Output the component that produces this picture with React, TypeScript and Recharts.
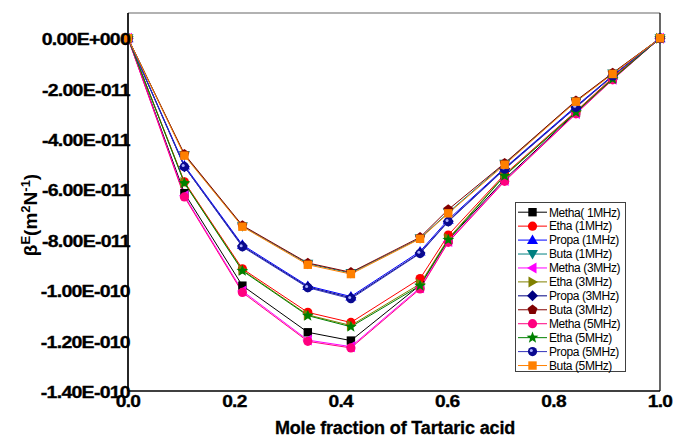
import React from "react";
import { LineChart, Line, XAxis, YAxis, ReferenceLine, Legend } from "recharts";

// Mole fraction of tartaric acid
const xValues = [0, 0.106, 0.215, 0.338, 0.419, 0.549, 0.602, 0.708, 0.842, 0.911, 1.0];

// Values of beta^E in units of 1E-11 m^2 N^-1
const methaMHz1 = [0, -61.5, -98.2, -116.7, -120.0, -98.0, -80.0, -56.0, -29.6, -16.0, 0];
const ethaMHz1 = [0, -57.0, -91.5, -108.8, -112.8, -95.4, -78.1, -54.0, -29.0, -15.6, 0];
const propaMHz1 = [0, -50.5, -82.0, -98.3, -102.5, -84.6, -72.0, -51.5, -27.0, -14.8, 0];
const butaMHz1 = [0, -46.3, -74.6, -89.5, -93.2, -79.4, -69.2, -49.8, -25.0, -14.0, 0];
const methaMHz3 = [0, -62.5, -100.3, -119.8, -122.4, -99.0, -80.7, -56.5, -29.9, -16.3, 0];
const ethaMHz3 = [0, -57.3, -92.0, -109.8, -114.0, -97.5, -79.5, -54.4, -29.2, -16.0, 0];
const propaMHz3 = [0, -51.0, -82.5, -98.7, -103.0, -85.2, -72.6, -51.8, -27.4, -15.0, 0];
const butaMHz3 = [0, -46.0, -74.3, -89.2, -92.9, -79.0, -68.0, -49.6, -24.8, -13.8, 0];
const methaMHz5 = [0, -63.0, -100.9, -120.3, -122.9, -99.5, -81.0, -56.8, -30.0, -16.5, 0];
const ethaMHz5 = [0, -57.5, -92.3, -110.1, -114.5, -98.2, -80.0, -54.6, -29.4, -16.2, 0];
const propaMHz5 = [0, -51.0, -82.8, -99.0, -103.4, -85.4, -72.8, -52.0, -27.5, -15.0, 0];
const butaMHz5 = [0, -46.6, -74.8, -89.9, -93.6, -79.6, -69.5, -50.2, -25.2, -14.2, 0];

const yTicks = [0, -20, -40, -60, -80, -100, -120, -140];
const yTickLabels = [
  "0.00E+000",
  "-2.00E-011",
  "-4.00E-011",
  "-6.00E-011",
  "-8.00E-011",
  "-1.00E-010",
  "-1.20E-010",
  "-1.40E-010",
];
const xTicks = [0, 0.2, 0.4, 0.6, 0.8, 1.0];
const xTickLabels = ["0.0", "0.2", "0.4", "0.6", "0.8", "1.0"];

const seriesNames = [
  "Metha( 1MHz)",
  "Etha (1MHz)",
  "Propa (1MHz)",
  "Buta (1MHz)",
  "Metha (3MHz)",
  "Etha (3MHz)",
  "Propa (3MHz)",
  "Buta (3MHz)",
  "Metha (5MHz)",
  "Etha (5MHz)",
  "Propa (5MHz)",
  "Buta (5MHz)",
];
const seriesValues = [
  methaMHz1, ethaMHz1, propaMHz1, butaMHz1,
  methaMHz3, ethaMHz3, propaMHz3, butaMHz3,
  methaMHz5, ethaMHz5, propaMHz5, butaMHz5,
];
const seriesColors = [
  "#000000", "#ff0000", "#0000ff", "#008080",
  "#ff00ff", "#808000", "#000080", "#800000",
  "#ff0080", "#008000", "#3333bb", "#ff8000",
];
const seriesShapes = [
  "square", "circle", "triUp", "triDown",
  "triLeft", "triRight", "diamond", "pentagon",
  "circle", "star", "sphere", "square",
];
const seriesKeys = seriesNames.map((_, i) => `s${i}`);

const data = xValues.map((x, i) => {
  const row: Record<string, number> = { x };
  seriesValues.forEach((arr, s) => {
    row[seriesKeys[s]] = arr[i];
  });
  return row;
});

const FONT = "'Liberation Sans', Arial, sans-serif";

function Marker({ shape, cx, cy, fill }: { shape: string; cx: number; cy: number; fill: string }) {
  if (cx == null || cy == null) return null;
  switch (shape) {
    case "square":
      return <rect x={cx - 4.2} y={cy - 4.2} width={8.4} height={8.4} fill={fill} />;
    case "circle":
      return <circle cx={cx} cy={cy} r={4.6} fill={fill} />;
    case "triUp":
      return <polygon points={`${cx},${cy - 5.5} ${cx + 5.5},${cy + 4} ${cx - 5.5},${cy + 4}`} fill={fill} />;
    case "triDown":
      return <polygon points={`${cx},${cy + 5.5} ${cx + 5.5},${cy - 4} ${cx - 5.5},${cy - 4}`} fill={fill} />;
    case "triLeft":
      return <polygon points={`${cx - 5.5},${cy} ${cx + 4},${cy - 5.5} ${cx + 4},${cy + 5.5}`} fill={fill} />;
    case "triRight":
      return <polygon points={`${cx + 5.5},${cy} ${cx - 4},${cy - 5.5} ${cx - 4},${cy + 5.5}`} fill={fill} />;
    case "diamond":
      return <polygon points={`${cx},${cy - 5.5} ${cx + 5.5},${cy} ${cx},${cy + 5.5} ${cx - 5.5},${cy}`} fill={fill} />;
    case "pentagon": {
      const pts: string[] = [];
      for (let k = 0; k < 5; k++) {
        const a = -Math.PI / 2 + (k * 2 * Math.PI) / 5;
        pts.push(`${cx + 5.2 * Math.cos(a)},${cy + 5.2 * Math.sin(a)}`);
      }
      return <polygon points={pts.join(" ")} fill={fill} />;
    }
    case "star": {
      const pts: string[] = [];
      for (let k = 0; k < 10; k++) {
        const a = -Math.PI / 2 + (k * Math.PI) / 5;
        const r = k % 2 === 0 ? 6.2 : 2.6;
        pts.push(`${cx + r * Math.cos(a)},${cy + r * Math.sin(a)}`);
      }
      return <polygon points={pts.join(" ")} fill={fill} />;
    }
    case "sphere":
      return (
        <g>
          <circle cx={cx} cy={cy} r={4.6} fill="#0a0a90" />
          <circle cx={cx - 1.2} cy={cy - 1.2} r={1.5} fill="#aab0ff" />
        </g>
      );
    default:
      return null;
  }
}

const YTick = (props: any) => {
  const { x, y, payload } = props;
  const idx = yTicks.indexOf(payload.value);
  if (idx < 0) return null;
  return (
    <text
      transform={`translate(${x + 2},${y + 7}) scale(1.22,1)`}
      textAnchor="end"
      fontSize={16}
      fontWeight="bold"
      fontFamily={FONT}
      letterSpacing={-0.6}
      stroke="#000"
      strokeWidth={0.3}
      fill="#000"
    >
      {yTickLabels[idx]}
    </text>
  );
};

const XTick = (props: any) => {
  const { x, y, payload } = props;
  const idx = xTicks.indexOf(payload.value);
  if (idx < 0) return null;
  return (
    <text
      transform={`translate(${x},${y + 16}) scale(1.2,1)`}
      textAnchor="middle"
      fontSize={16}
      fontWeight="bold"
      fontFamily={FONT}
      letterSpacing={-0.6}
      stroke="#000"
      strokeWidth={0.3}
      fill="#000"
    >
      {xTickLabels[idx]}
    </text>
  );
};

const LegendBox = () => {
  const rowH = 13.94;
  return (
    <div
      style={{
        width: 111,
        height: 170,
        border: "1px solid #404040",
        background: "#fff",
        boxSizing: "border-box",
      }}
    >
      <svg width={109} height={168} style={{ display: "block", overflow: "visible" }}>
        {seriesNames.map((name, i) => {
          const cy = 9.2 + i * rowH;
          return (
            <g key={name}>
              <line x1={2} x2={31} y1={cy} y2={cy} stroke={seriesColors[i]} strokeWidth={1} />
              <Marker shape={seriesShapes[i]} cx={16.5} cy={cy} fill={seriesColors[i]} />
              <text
                x={33}
                y={cy + 4.3}
                fontSize={12}
                fontFamily={FONT}
                letterSpacing={-0.4}
                fill="#000"
              >
                {name}
              </text>
            </g>
          );
        })}
      </svg>
    </div>
  );
};

export default function App() {
  return (
    <div style={{ position: "absolute", left: 0, top: 0, width: 674, height: 438, background: "#fff" }}>
      <LineChart
        width={674}
        height={438}
        data={data}
        margin={{ top: 13, right: 14, bottom: 0, left: 0 }}
      >
        <XAxis
          dataKey="x"
          type="number"
          domain={[0, 1]}
          ticks={xTicks}
          tick={<XTick />}
          tickLine={false}
          tickSize={0}
          tickMargin={0}
          height={47}
          axisLine={{ stroke: "#000", strokeWidth: 1.5 }}
          interval={0}
          label={{
            content: () => (
              <text
                x={395}
                y={434}
                textAnchor="middle"
                fontSize={18}
                fontWeight="bold"
                fontFamily={FONT}
                letterSpacing={-0.15}
                stroke="#000"
                strokeWidth={0.3}
                fill="#000"
              >
                Mole fraction of Tartaric acid
              </text>
            ),
          }}
        />
        <YAxis
          type="number"
          domain={[-140, 10]}
          ticks={yTicks}
          tick={<YTick />}
          tickLine={false}
          tickSize={0}
          tickMargin={0}
          width={128}
          axisLine={{ stroke: "#000", strokeWidth: 1.7 }}
          interval={0}
          label={{
            content: () => (
              <text
                transform="translate(37,215) rotate(-90)"
                textAnchor="middle"
                fontSize={19}
                fontWeight="bold"
                fontFamily={FONT}
                fill="#000"
              >
                β
                <tspan fontSize={13} dy={-7}>E</tspan>
                <tspan fontSize={19} dy={7}>(m</tspan>
                <tspan fontSize={13} dy={-7}>2</tspan>
                <tspan fontSize={19} dy={7}>N</tspan>
                <tspan fontSize={13} dy={-7}>-1</tspan>
                <tspan fontSize={19} dy={7}>)</tspan>
              </text>
            ),
          }}
        />
        <ReferenceLine y={10} stroke="#999999" strokeWidth={1.3} />
        <ReferenceLine x={1} stroke="#000" strokeWidth={1.2} />
        {seriesKeys.map((k, i) => (
          <Line
            key={k}
            dataKey={k}
            name={seriesNames[i]}
            type="linear"
            stroke={seriesColors[i]}
            strokeWidth={1}
            isAnimationActive={false}
            activeDot={false}
            dot={(p: any) => (
              <Marker key={`${k}-${p.index}`} shape={seriesShapes[i]} cx={p.cx} cy={p.cy} fill={seriesColors[i]} />
            )}
          />
        ))}
        <Legend
          layout="vertical"
          align="center"
          verticalAlign="middle"
          content={() => <LegendBox />}
          wrapperStyle={{ position: "absolute", left: 515, top: 202, width: 111, height: 170 }}
        />
      </LineChart>
    </div>
  );
}
